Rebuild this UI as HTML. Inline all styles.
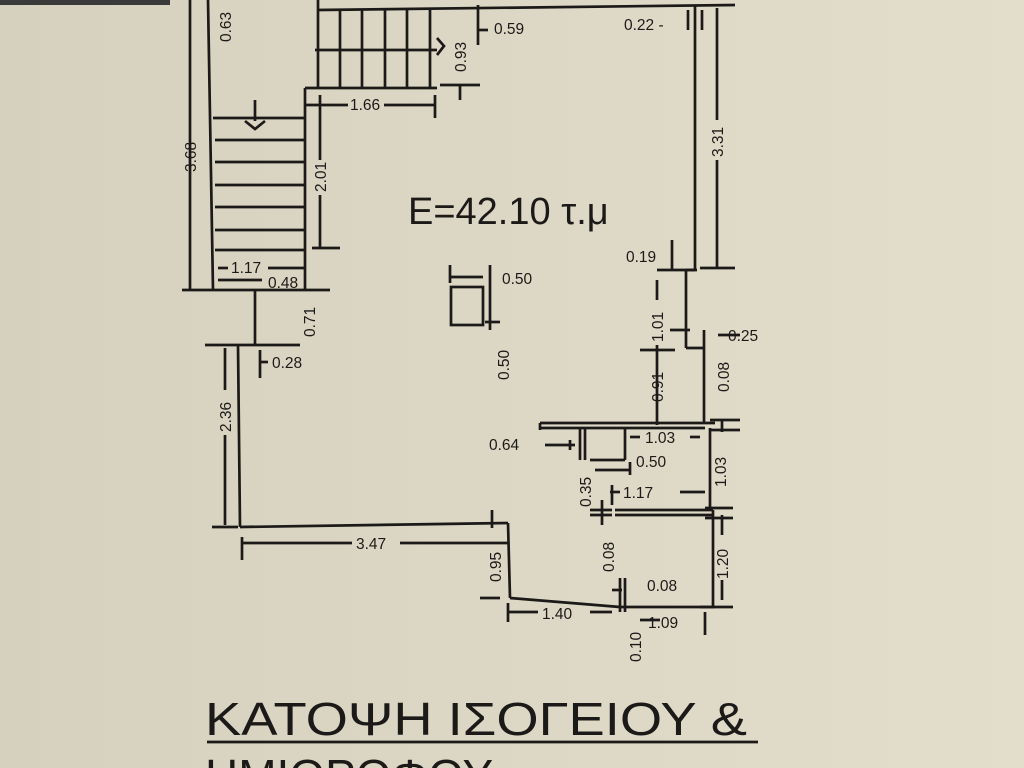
<!DOCTYPE html>
<html><head><meta charset="utf-8"><style>
html,body{margin:0;padding:0;width:1024px;height:768px;overflow:hidden}
body{background:linear-gradient(90deg,#d6d1be 0%,#dcd6c4 45%,#e3ddcc 100%);}
svg{position:absolute;left:0;top:0}
text{font-family:"Liberation Sans","DejaVu Sans",sans-serif;fill:#1c1a18}
</style></head><body>
<svg width="1024" height="768" viewBox="0 0 1024 768">
<rect x="0" y="0" width="170" height="5" fill="#3a3a3a"/>
<g stroke="#1c1a18" stroke-width="2.7" fill="none">
<line x1="208" y1="0" x2="213" y2="290"/>
<line x1="190" y1="0" x2="190" y2="290"/>
<line x1="182" y1="290" x2="330" y2="290"/>
<line x1="213" y1="118" x2="305" y2="118"/>
<line x1="215" y1="140" x2="305" y2="140"/>
<line x1="215" y1="162" x2="305" y2="162"/>
<line x1="215" y1="185" x2="305" y2="185"/>
<line x1="215" y1="207" x2="305" y2="207"/>
<line x1="215" y1="230" x2="305" y2="230"/>
<line x1="215" y1="250" x2="305" y2="250"/>
<line x1="218" y1="268" x2="228" y2="268"/>
<line x1="268" y1="268" x2="305" y2="268"/>
<line x1="218" y1="280" x2="262" y2="280"/>
<polyline points="245,121 255,129 265,121"/>
<line x1="255" y1="100" x2="255" y2="121"/>
<line x1="305" y1="88" x2="305" y2="290"/>
<line x1="305" y1="88" x2="437" y2="88"/>
<line x1="320" y1="95" x2="320" y2="160"/>
<line x1="320" y1="195" x2="320" y2="248"/>
<line x1="312" y1="248" x2="340" y2="248"/>
<line x1="305" y1="105" x2="348" y2="105"/>
<line x1="384" y1="105" x2="435" y2="105"/>
<line x1="435" y1="95" x2="435" y2="118"/>
<line x1="318" y1="0" x2="318" y2="88"/>
<line x1="340" y1="10" x2="340" y2="88"/>
<line x1="362" y1="10" x2="362" y2="88"/>
<line x1="385" y1="10" x2="385" y2="88"/>
<line x1="407" y1="10" x2="407" y2="88"/>
<line x1="430" y1="10" x2="430" y2="88"/>
<line x1="315" y1="50" x2="437" y2="50"/>
<polyline points="437,38 444,46 437,55"/>
<line x1="318" y1="10" x2="735" y2="5"/>
<line x1="478" y1="5" x2="478" y2="45"/>
<line x1="440" y1="85" x2="480" y2="85"/>
<line x1="460" y1="85" x2="460" y2="100"/>
<line x1="478" y1="30" x2="488" y2="30"/>
<line x1="695" y1="5" x2="695" y2="270"/>
<line x1="702" y1="10" x2="702" y2="30"/>
<line x1="688" y1="10" x2="688" y2="30"/>
<line x1="717" y1="8" x2="717" y2="120"/>
<line x1="717" y1="160" x2="717" y2="268"/>
<line x1="700" y1="268" x2="735" y2="268"/>
<rect x="451" y="287" width="32" height="38"/>
<line x1="450" y1="277" x2="483" y2="277"/>
<line x1="450" y1="265" x2="450" y2="283"/>
<line x1="490" y1="265" x2="490" y2="330"/>
<line x1="485" y1="322" x2="500" y2="322"/>
<line x1="686" y1="270" x2="695" y2="270"/>
<line x1="686" y1="270" x2="686" y2="348"/>
<line x1="686" y1="348" x2="704" y2="348"/>
<line x1="704" y1="330" x2="704" y2="423"/>
<line x1="672" y1="240" x2="672" y2="270"/>
<line x1="657" y1="270" x2="697" y2="270"/>
<line x1="657" y1="280" x2="657" y2="300"/>
<line x1="657" y1="345" x2="657" y2="425"/>
<line x1="640" y1="350" x2="675" y2="350"/>
<line x1="670" y1="330" x2="690" y2="330"/>
<line x1="718" y1="335" x2="740" y2="335"/>
<line x1="255" y1="290" x2="255" y2="345"/>
<line x1="205" y1="345" x2="300" y2="345"/>
<line x1="238" y1="345" x2="240" y2="527"/>
<line x1="225" y1="348" x2="225" y2="390"/>
<line x1="225" y1="435" x2="225" y2="525"/>
<line x1="212" y1="527" x2="238" y2="527"/>
<line x1="260" y1="350" x2="260" y2="378"/>
<line x1="260" y1="362" x2="268" y2="362"/>
<line x1="240" y1="527" x2="508" y2="523"/>
<line x1="492" y1="510" x2="492" y2="528"/>
<line x1="242" y1="537" x2="242" y2="560"/>
<line x1="242" y1="543" x2="352" y2="543"/>
<line x1="400" y1="543" x2="508" y2="543"/>
<line x1="508" y1="523" x2="510" y2="598"/>
<line x1="480" y1="598" x2="500" y2="598"/>
<line x1="510" y1="598" x2="620" y2="607"/>
<line x1="508" y1="603" x2="508" y2="622"/>
<line x1="508" y1="612" x2="538" y2="612"/>
<line x1="590" y1="612" x2="612" y2="612"/>
<line x1="620" y1="607" x2="715" y2="607"/>
<line x1="713" y1="510" x2="713" y2="607"/>
<line x1="700" y1="607" x2="733" y2="607"/>
<line x1="722" y1="515" x2="722" y2="535"/>
<line x1="722" y1="580" x2="722" y2="600"/>
<line x1="615" y1="510" x2="713" y2="510"/>
<line x1="615" y1="515" x2="713" y2="515"/>
<line x1="705" y1="612" x2="705" y2="635"/>
<line x1="640" y1="620" x2="660" y2="620"/>
<line x1="620" y1="578" x2="620" y2="612"/>
<line x1="625" y1="578" x2="625" y2="612"/>
<line x1="612" y1="590" x2="622" y2="590"/>
<line x1="540" y1="423" x2="715" y2="423"/>
<line x1="540" y1="428" x2="705" y2="428"/>
<line x1="540" y1="423" x2="540" y2="430"/>
<line x1="580" y1="428" x2="580" y2="460"/>
<line x1="585" y1="428" x2="585" y2="460"/>
<line x1="590" y1="460" x2="625" y2="460"/>
<line x1="625" y1="428" x2="625" y2="460"/>
<line x1="595" y1="470" x2="630" y2="470"/>
<line x1="630" y1="462" x2="630" y2="475"/>
<line x1="710" y1="428" x2="710" y2="510"/>
<line x1="722" y1="420" x2="722" y2="432"/>
<line x1="710" y1="430" x2="740" y2="430"/>
<line x1="710" y1="420" x2="740" y2="420"/>
<line x1="705" y1="508" x2="733" y2="508"/>
<line x1="705" y1="518" x2="733" y2="518"/>
<line x1="545" y1="445" x2="575" y2="445"/>
<line x1="570" y1="440" x2="570" y2="450"/>
<line x1="610" y1="492" x2="620" y2="492"/>
<line x1="680" y1="492" x2="705" y2="492"/>
<line x1="612" y1="485" x2="612" y2="505"/>
<line x1="590" y1="510" x2="612" y2="510"/>
<line x1="590" y1="515" x2="612" y2="515"/>
<line x1="602" y1="500" x2="602" y2="525"/>
<line x1="630" y1="437" x2="640" y2="437"/>
<line x1="690" y1="437" x2="700" y2="437"/>
<line x1="207" y1="742" x2="758" y2="742"/>
</g>
<g font-size="15.5">
<text x="624" y="30">0.22 -</text>
<text x="494" y="34">0.59</text>
<text x="350" y="110">1.66</text>
<text x="231" y="273">1.17</text>
<text x="268" y="288">0.48</text>
<text x="272" y="368">0.28</text>
<text x="502" y="284">0.50</text>
<text x="626" y="262">0.19</text>
<text x="728" y="341">0.25</text>
<text x="489" y="450">0.64</text>
<text x="645" y="443">1.03</text>
<text x="636" y="467">0.50</text>
<text x="623" y="498">1.17</text>
<text x="356" y="549">3.47</text>
<text x="542" y="619">1.40</text>
<text x="647" y="591">0.08</text>
<text x="648" y="628">1.09</text>
<text transform="translate(231,42) rotate(-90)">0.63</text>
<text transform="translate(196,172) rotate(-90)">3.68</text>
<text transform="translate(326,192) rotate(-90)">2.01</text>
<text transform="translate(466,72) rotate(-90)">0.93</text>
<text transform="translate(723,157) rotate(-90)">3.31</text>
<text transform="translate(315,337) rotate(-90)">0.71</text>
<text transform="translate(509,380) rotate(-90)">0.50</text>
<text transform="translate(663,342) rotate(-90)">1.01</text>
<text transform="translate(663,402) rotate(-90)">0.91</text>
<text transform="translate(729,392) rotate(-90)">0.08</text>
<text transform="translate(231,432) rotate(-90)">2.36</text>
<text transform="translate(591,507) rotate(-90)">0.35</text>
<text transform="translate(726,487) rotate(-90)">1.03</text>
<text transform="translate(614,572) rotate(-90)">0.08</text>
<text transform="translate(728,579) rotate(-90)">1.20</text>
<text transform="translate(501,582) rotate(-90)">0.95</text>
<text transform="translate(641,662) rotate(-90)">0.10</text>
</g>
<text x="408" y="224" font-size="38">E=42.10 τ.μ</text>
<text x="205" y="735" font-size="46" textLength="542" lengthAdjust="spacingAndGlyphs">ΚΑΤΟΨΗ ΙΣΟΓΕΙΟΥ &amp;</text>
<text x="205" y="792" font-size="46">ΗΜΙΟΡΟΦΟΥ</text>
</svg>
</body></html>
